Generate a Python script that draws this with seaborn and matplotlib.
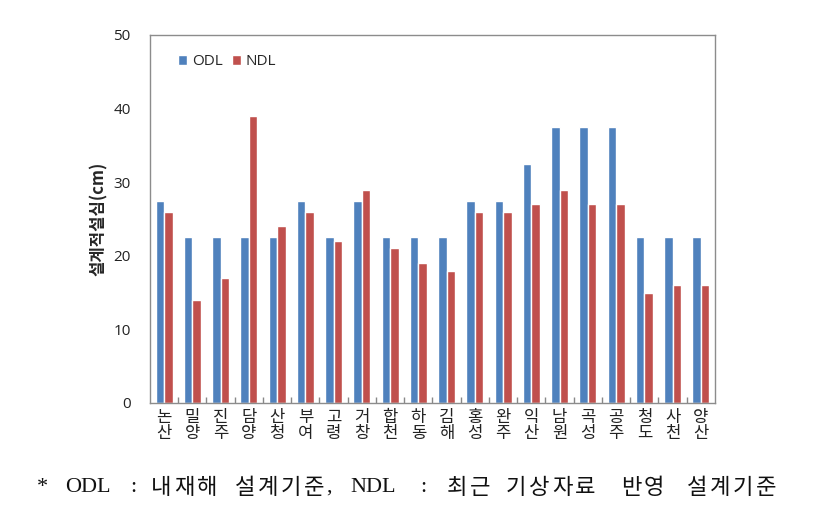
import matplotlib
matplotlib.use("Agg")
import matplotlib.pyplot as plt
import seaborn as sns
import pandas as pd
from matplotlib.ticker import FixedLocator

# region names (two syllables, stacked vertically on the x axis)
regions = ["논산", "밀양", "진주", "담양", "산청", "부여", "고령", "거창", "합천", "하동",
           "김해", "홍성", "완주", "익산", "남원", "곡성", "공주", "청도", "사천", "양산"]
odl = [27.5, 22.5, 22.5, 22.5, 22.5, 27.5, 22.5, 27.5, 22.5, 22.5,
       22.5, 27.5, 27.5, 32.5, 37.5, 37.5, 37.5, 22.5, 22.5, 22.5]
ndl = [26, 14, 17, 39, 24, 26, 22, 29, 21, 19,
       18, 26, 26, 27, 29, 27, 27, 15, 16, 16]

df = pd.DataFrame({
    "region": regions * 2,
    "value": odl + ndl,
    "type": ["ODL"] * len(regions) + ["NDL"] * len(regions),
})

sns.set_theme(style="white")
plt.rcParams["font.family"] = ["Open Sans", "Noto Sans CJK KR", "DejaVu Sans"]

fig = plt.figure(figsize=(8.26, 5.05), dpi=100)
ax = fig.add_axes([0.1816, 0.202, 0.684, 0.7287])

sns.barplot(data=df, x="region", y="value", hue="type",
            palette={"ODL": "#4F81BD", "NDL": "#C0504D"},
            width=0.6, gap=0, saturation=1, errorbar=None, ax=ax)

ax.set_ylim(0, 50)
ax.set_xlim(-0.5, len(regions) - 0.5)
ax.set_yticks(range(0, 51, 10))
ax.tick_params(axis="y", labelsize=11, length=0, pad=14, colors="#222222")
ax.set_xticks(range(len(regions)))
ax.set_xticklabels(["\n".join(r) for r in regions], fontsize=12,
                   family=["Noto Sans CJK KR"], linespacing=0.95)
ax.tick_params(axis="x", length=0, pad=4, colors="#222222")
# category boundary ticks pointing into the plot
ax.xaxis.set_minor_locator(FixedLocator([i + 0.5 for i in range(len(regions) - 1)]))
ax.tick_params(axis="x", which="minor", direction="in", length=4, color="#888888", bottom=True)

ax.set_xlabel("")
ax.set_ylabel("설계적설심(cm)", fontsize=12, fontweight="bold",
              family=["Noto Sans CJK KR"], labelpad=4)

for s in ax.spines.values():
    s.set_color("#8c8c8c")
    s.set_linewidth(1.0)

ax.legend(loc="upper left", bbox_to_anchor=(0.025, 0.985), ncol=2, frameon=False,
          fontsize=11, handlelength=0.6, handleheight=0.6,
          handletextpad=0.3, columnspacing=0.6)

# caption: the original uses a wide, tracked serif face, so the Korean
# syllables are set one by one with a fixed advance (pixels)
CAP_Y = 0.035
ADV = 23

def latin(text, x):
    fig.text(x / 826, CAP_Y, text, ha="left", va="center", fontsize=16,
             color="#111111", family=["Liberation Serif"])

def hangul(text, left):
    for i, ch in enumerate(text):
        fig.text((left + 11 + i * ADV) / 826, CAP_Y, ch, ha="center", va="center",
                 fontsize=16, color="#111111", family=["Noto Sans CJK KR"])
    return left + (len(text) - 1) * ADV + 22

latin("*", 37)
latin("ODL", 65)
latin(":", 130)
hangul("내재해", 150)
end = hangul("설계기준", 234)
latin(",", end + 1)
latin("NDL", 350)
latin(":", 420)
hangul("최근", 446)
hangul("기상자료", 505)
hangul("반영", 620)
hangul("설계기준", 686)

fig.savefig("out.png", dpi=100)
